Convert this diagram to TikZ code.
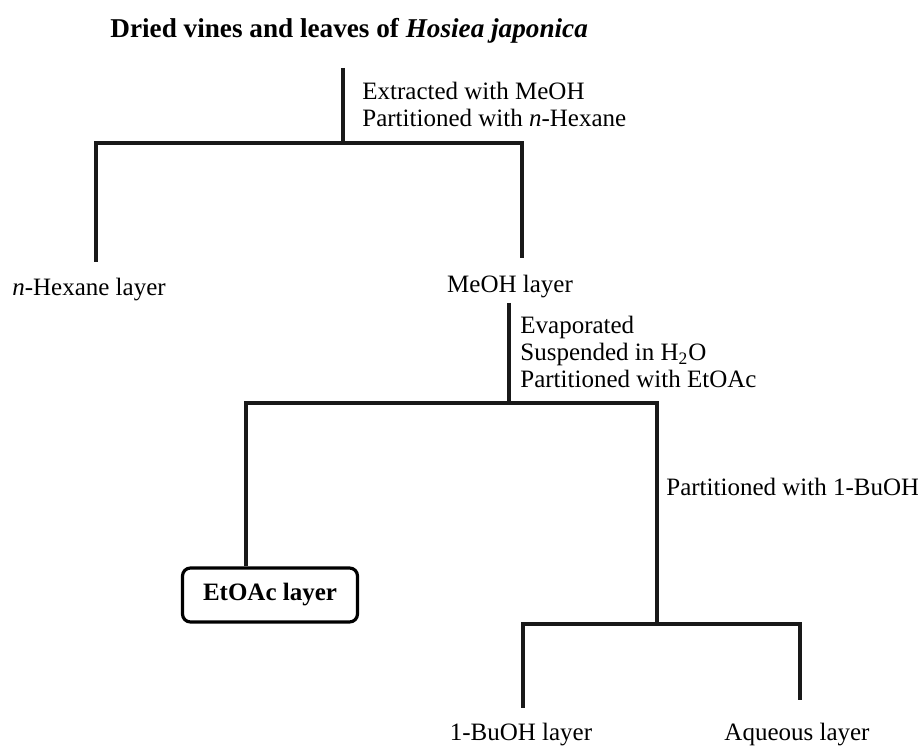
\documentclass[tikz,border=0pt]{standalone}
\usepackage{fontspec}
\setmainfont{Liberation Serif}
\usetikzlibrary{positioning}
\tikzset{
  link/.style={line width=1.6pt, color=black!90},
  lbl/.style={inner sep=0pt, font=\fontsize{12.5}{13.5}\selectfont},
  note/.style={lbl, align=left, anchor=west},
  ttl/.style={inner sep=0pt, font=\fontsize{13.6}{16}\selectfont\bfseries},
  layerbox/.style={draw, line width=1.6pt, rounded corners=4pt, minimum width=87.5pt,
    minimum height=27pt, inner sep=0pt, font=\fontsize{12.5}{13.5}\selectfont\bfseries}
}
\begin{document}
\begin{tikzpicture}[x=0.5pt,y=-0.5pt]
\useasboundingbox (0,0) rectangle (918,749);
% title
\node[ttl, anchor=base west] (title) at (110,38) {Dried vines and leaves of \textit{Hosiea japonica}};
% first split
\coordinate (s1) at (343,68);
\coordinate (j1) at (343,143);
\coordinate (e1l) at (96,262);
\coordinate (e1r) at (522,258);
\node[note] (n1) at (362,104) {Extracted with MeOH\\Partitioned with \textit{n}-Hexane};
\node[lbl] (hex) at (89,290) {\textit{n}-Hexane layer};
\node[lbl] (meoh) at (510,287) {MeOH layer};
\draw[link] (s1) -- (j1);
\draw[link] (e1l) |- (j1) -| (e1r);
% second split
\coordinate (s2) at (509,303);
\coordinate (j2) at (509,403);
\coordinate (j3) at (657,624);
\node[note] (n2) at (520,352) {Evaporated\\Suspended in H\textsubscript{2}O\\Partitioned with EtOAc};
\node[layerbox] (etoac) at (270,595) {EtOAc layer};
\draw[link] (s2) -- (j2);
\draw[link] (etoac.north -| 246,0) |- (j2) -| (j3);
\node[note] (n3) at (666,487) {Partitioned with 1-BuOH};
% third split
\coordinate (e3l) at (523,708);
\coordinate (e3r) at (800,700);
\node[lbl] (buoh) at (521,735) {1-BuOH layer};
\node[lbl] (aq) at (797,735) {Aqueous layer};
\draw[link] (e3l) |- (j3) -| (e3r);
\end{tikzpicture}
\end{document}
